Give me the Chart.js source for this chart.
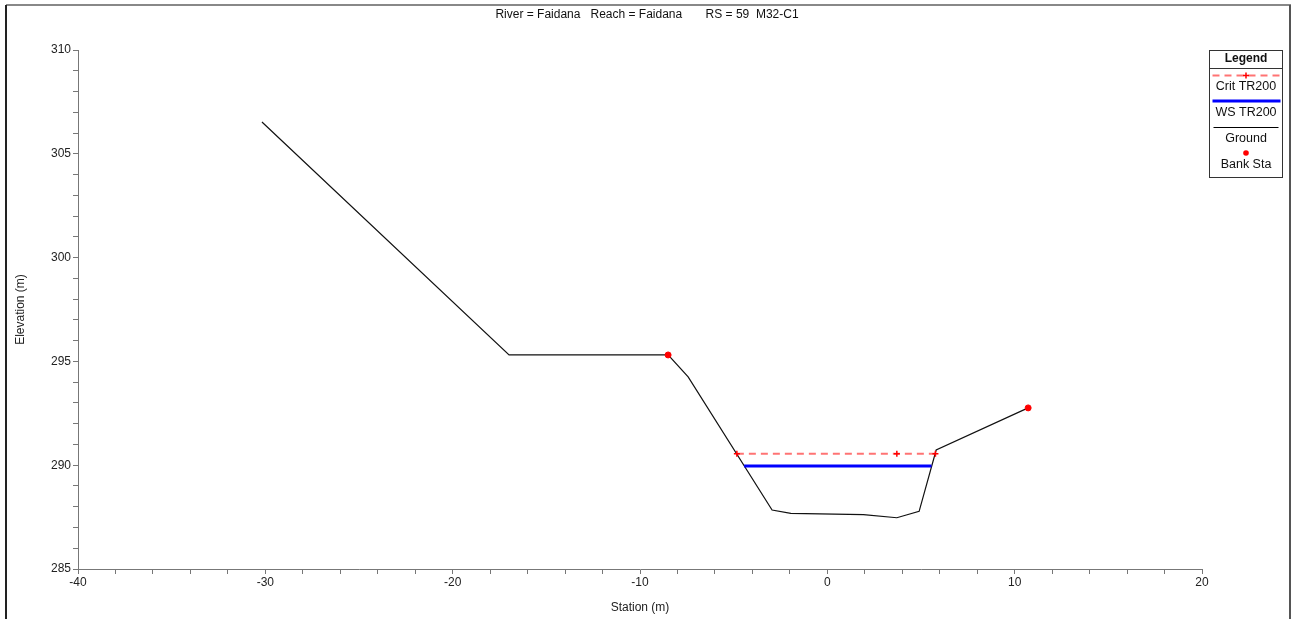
<!DOCTYPE html>
<html>
<head>
<meta charset="utf-8">
<script src="https://cdn.jsdelivr.net/npm/chart.js@4"></script>
<style>
body{margin:0;background:#fff;}
canvas{display:block;}
</style>
</head>
<body>
<canvas id="myChart" width="1291" height="619"></canvas>
<script>
// ground profile
const groundSta=[-30.18,-16.99,-8.5,-7.43,-2.95,-1.95,1.93,3.71,4.9,5.81,10.72];
const groundElev=[306.53,295.31,295.31,294.25,287.84,287.68,287.62,287.47,287.78,290.73,292.76];
// bank stations
const bankSta=[-8.5,10.72];
const bankElev=[295.31,292.76];
// critical depth TR200
const critSta=[-4.83,3.71,5.77];
const critElev=[290.55,290.55,290.55];
// water surface TR200
const wsSta=[-4.44,5.56];
const wsElev=[289.96,289.96];

const titleText="River = Faidana   Reach = Faidana       RS = 59  M32-C1";
const legendItems=["Crit TR200","WS TR200","Ground","Bank Sta"];

function pts(xs,ys){return xs.map((x,i)=>({x:x,y:ys[i]}));}

const FONT="Liberation Sans, Arial, sans-serif";

// frame, title, legend box
const decor={
  id:'decor',
  afterDraw(chart){
    const ctx=chart.ctx;
    ctx.save();
    ctx.strokeStyle='#888';ctx.lineWidth=2;
    ctx.beginPath();ctx.moveTo(6,5);ctx.lineTo(1291,5);ctx.stroke();
    ctx.strokeStyle='#222';
    ctx.beginPath();ctx.moveTo(6,5);ctx.lineTo(6,619);ctx.stroke();
    ctx.strokeStyle='#555';
    ctx.beginPath();ctx.moveTo(1290,5);ctx.lineTo(1290,619);ctx.stroke();
    ctx.fillStyle='#111';ctx.font='12px '+FONT;
    ctx.textAlign='center';ctx.textBaseline='middle';
    ctx.fillText(titleText,647,15);
    const L=1209.5,R=1282.5,T=50.5,B=177.5,cx=(L+R)/2;
    ctx.fillStyle='#fff';ctx.fillRect(L,T,R-L,B-T);
    ctx.strokeStyle='#333';ctx.lineWidth=1;ctx.strokeRect(L,T,R-L,B-T);
    ctx.beginPath();ctx.moveTo(L,68.5);ctx.lineTo(R,68.5);ctx.stroke();
    ctx.fillStyle='#111';
    ctx.font='bold 12px '+FONT;ctx.fillText('Legend',cx,59);
    ctx.font='12.5px '+FONT;
    ctx.strokeStyle='rgba(255,0,0,0.55)';ctx.setLineDash([7,5]);ctx.lineWidth=2;
    ctx.beginPath();ctx.moveTo(L+3,75.5);ctx.lineTo(R-1,75.5);ctx.stroke();
    ctx.setLineDash([]);ctx.strokeStyle='red';ctx.lineWidth=1.5;
    ctx.beginPath();ctx.moveTo(cx-3,75.5);ctx.lineTo(cx+3,75.5);ctx.moveTo(cx,72.5);ctx.lineTo(cx,78.5);ctx.stroke();
    ctx.fillText(legendItems[0],cx,87);
    ctx.strokeStyle='#0000ff';ctx.lineWidth=3;
    ctx.beginPath();ctx.moveTo(L+3,101);ctx.lineTo(R-2,101);ctx.stroke();
    ctx.fillText(legendItems[1],cx,113);
    ctx.strokeStyle='#000';ctx.lineWidth=1;
    ctx.beginPath();ctx.moveTo(L+4,127.5);ctx.lineTo(R-4,127.5);ctx.stroke();
    ctx.fillText(legendItems[2],cx,139);
    ctx.fillStyle='red';ctx.beginPath();ctx.arc(cx,153,2.8,0,Math.PI*2);ctx.fill();
    ctx.fillStyle='#111';ctx.fillText(legendItems[3],cx,165);
    ctx.restore();
  }
};

new Chart("myChart",{
  type:"scatter",
  data:{
    datasets:[
      {label:"Ground",data:pts(groundSta,groundElev),showLine:true,borderColor:"#111",borderWidth:1.2,pointRadius:0,order:3},
      {label:"WS TR200",data:pts(wsSta,wsElev),showLine:true,borderColor:"#0000ff",borderWidth:3,pointRadius:0,order:2},
      {label:"Crit TR200",data:pts(critSta,critElev),showLine:true,borderColor:"rgba(255,0,0,0.55)",borderDash:[7,5],borderWidth:2,
        pointStyle:"cross",pointRadius:3,pointBorderColor:"red",pointBorderWidth:1.5,order:1},
      {label:"Bank Sta",data:pts(bankSta,bankElev),showLine:false,pointRadius:3,backgroundColor:"red",borderColor:"red",order:0}
    ]
  },
  options:{
    responsive:false,
    animation:false,
    devicePixelRatio:1,
    layout:{padding:{top:50,right:89,left:0,bottom:0}},
    plugins:{legend:{display:false},tooltip:{enabled:false},title:{display:false}},
    scales:{
      x:{
        type:"linear",min:-40,max:20,
        afterFit(s){s.height=50;},
        grid:{display:true,drawOnChartArea:false,drawTicks:true,tickLength:5,color:"#777"},
        border:{display:true,color:"#777"},
        ticks:{stepSize:2,autoSkip:false,maxRotation:0,padding:1,color:"#222",font:{family:FONT,size:12},
          callback:v=>v%10===0?v:""},
        title:{display:true,text:"Station (m)",color:"#222",font:{family:FONT,size:12},padding:{top:0,bottom:4}}
      },
      y:{
        type:"linear",min:285,max:310,
        afterFit(s){s.width=78;},
        grid:{display:true,drawOnChartArea:false,drawTicks:true,tickLength:5,color:"#777"},
        border:{display:true,color:"#777"},
        ticks:{stepSize:1,autoSkip:false,padding:2,color:"#222",font:{family:FONT,size:12},
          callback:v=>v%5===0?v:""},
        title:{display:true,text:"Elevation (m)",color:"#222",font:{family:FONT,size:12},padding:{top:13,bottom:0}}
      }
    }
  },
  plugins:[decor]
});
</script>
</body>
</html>
